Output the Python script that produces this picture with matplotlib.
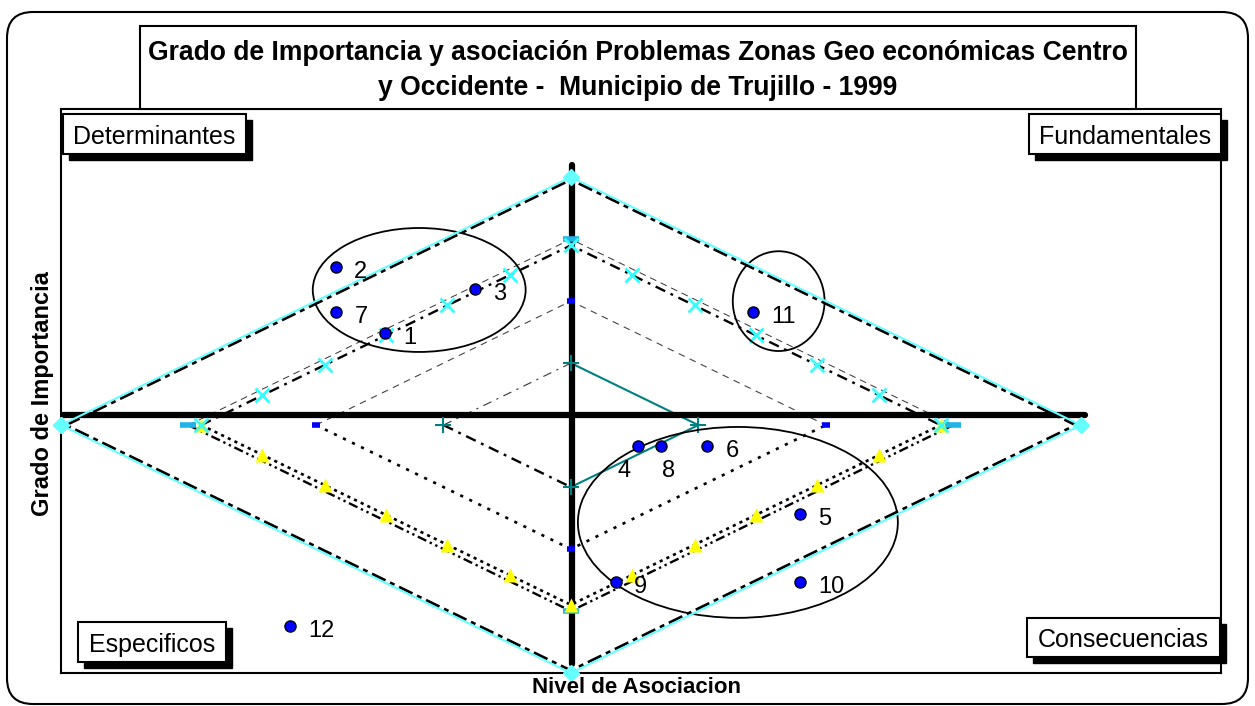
import numpy as np
import matplotlib.pyplot as plt
from matplotlib.patches import Ellipse, Rectangle, FancyBboxPatch

plt.rcParams['font.family'] = ['Liberation Sans', 'DejaVu Sans']

# ----------------------------------
# Data
# ----------------------------------

# problems: label, nivel de asociacion (x), grado de importancia (y)
prob_labels = ['1', '2', '3', '4', '5', '6', '7', '8', '9', '10', '11', '12']
prob_x = [-1.46, -1.84, -0.75, 0.53, 1.80, 1.07, -1.84, 0.71, 0.35, 1.80, 1.43, -2.20]
prob_y = [1.48, 2.55, 2.19, -0.34, -1.44, -0.34, 1.82, -0.34, -2.53, -2.53, 1.82, -3.24]

# reference rings (diamonds)
ring_radius = [1.0, 2.0, 3.0, 4.0]
inner3_radius = 2.9

# marks along the third ring
cross_x = [-2.9, -2.42, -1.93, -1.45, -0.97, -0.48, 0.0,
           0.48, 0.97, 1.45, 1.93, 2.42, 2.9]
cross_y = [0.0, 0.48, 0.97, 1.45, 1.93, 2.42, 2.9,
           2.42, 1.93, 1.45, 0.97, 0.48, 0.0]
tri_x = cross_x
tri_y = [0.0, -0.48, -0.97, -1.45, -1.93, -2.42, -2.9,
         -2.42, -1.93, -1.45, -0.97, -0.48, 0.0]

# groups (ellipses): centre x, centre y, width, height
group_cx = [-1.19, 1.63, 1.31]
group_cy = [2.18, 2.0, -1.57]
group_w = [1.67, 0.72, 2.51]
group_h = [2.0, 1.61, 3.08]

quadrant_names = ['Determinantes', 'Fundamentales', 'Especificos', 'Consecuencias']

title = ("Grado de Importancia y asociación Problemas Zonas Geo económicas Centro",
         "y Occidente -  Municipio de Trujillo - 1999")

# unit diamond shapes
dia_x = np.array([-1, 0, 1, 0, -1])
dia_y = np.array([0, 1, 0, -1, 0])
up_x, up_y = np.array([-1, 0, 1]), np.array([0, 1, 0])
lo_x, lo_y = np.array([-1, 0, 1]), np.array([0, -1, 0])
vx, vy = dia_x[:4], dia_y[:4]

# ----------------------------------
# Figure
# ----------------------------------

W, H = 1255, 706
fig = plt.figure(figsize=(W / 100, H / 100), dpi=100)


def px_rect(x0, y0, x1, y1, **kw):
    return Rectangle((x0 / 100, (H - y1) / 100), (x1 - x0) / 100, (y1 - y0) / 100,
                     transform=fig.dpi_scale_trans, **kw)


# outer rounded frame
frame = FancyBboxPatch((7 / 100, (H - 704) / 100), (1248 - 7) / 100, (704 - 12) / 100,
                       boxstyle="round,pad=0,rounding_size=0.26",
                       transform=fig.dpi_scale_trans, fill=False, ec='k', lw=1.5, zorder=0)
fig.add_artist(frame)

ax = fig.add_axes([61 / W, 1 - 673 / H, (1221 - 61) / W, (673 - 109) / H])
ax.set_xlim(-4, 5.1)
ax.set_ylim(-4, 5.1)
ax.set_xticks([])
ax.set_yticks([])
for s in ax.spines.values():
    s.set_linewidth(1.5)

# ring 4
R = ring_radius[3]
ax.plot(0.99 * R * dia_x, 0.99 * R * dia_y, color='k', lw=2.0,
        dashes=(5.4, 1.8, 1.8, 1.8), zorder=2)
ax.plot(R * dia_x, R * dia_y, color='#66FFFF', lw=1.5, marker='D', ms=8,
        mec='#66FFFF', clip_on=False, zorder=6)

# ring 3
R = ring_radius[2]
r = inner3_radius
ax.plot(r * up_x, r * up_y, color='k', lw=1.7, dashes=(4.5, 2.5, 1.2, 2.5), zorder=2)
ax.plot(R * up_x, R * up_y, color='#333333', lw=0.7, dashes=(7, 5), zorder=2)
ax.plot(r * lo_x, r * lo_y, color='k', lw=1.9, dashes=(1.2, 1.6), zorder=2)
ax.plot(R * lo_x, R * lo_y, color='k', lw=1.7, dashes=(4, 1.6, 1.0, 1.6, 1.0, 1.6), zorder=2)
ax.plot(R * vx, R * vy, ls='none', marker='_', ms=12, mew=4, color='#20B4E8', zorder=4)
ax.plot(cross_x, cross_y, ls='none', marker='x', ms=10, mew=2, color='#33FFFF', zorder=5)
ax.plot(tri_x, tri_y, ls='none', marker='^', ms=10.5, color='#FFFF00', mec='none', zorder=4)

# ring 2
R = ring_radius[1]
ax.plot(R * up_x, R * up_y, color='#444444', lw=0.8, dashes=(6, 5), zorder=2)
ax.plot(R * lo_x, R * lo_y, color='k', lw=1.9, dashes=(1.2, 2.6), zorder=2)
ax.plot(R * vx, R * vy, ls='none', marker='_', ms=6, mew=4, color='#0000FF', zorder=4)

# ring 1
R = ring_radius[0]
ax.plot([-R, 0], [0, R], color='#333333', lw=0.8, dashes=(8, 5, 2, 5), zorder=2)
ax.plot([-R, 0], [0, -R], color='k', lw=1.7, dashes=(4.5, 2.5, 1.2, 2.5), zorder=2)
ax.plot([0, R, 0], [R, 0, -R], color='#008080', lw=1.5, zorder=2)
ax.plot(R * vx, R * vy, ls='none', marker='+', ms=11, mew=1.5, color='#008080', zorder=4)

# thick cross lines
ax.plot([-4, 4.03], [0.16, 0.16], color='k', lw=4.5, solid_capstyle='round', zorder=3)
ax.plot([0.01, 0.01], [-3.85, 4.2], color='k', lw=4.5, solid_capstyle='round', zorder=3)

# groups
for cx, cy, w, h in zip(group_cx, group_cy, group_w, group_h):
    ax.add_patch(Ellipse((cx, cy), w, h, fill=False, ec='k', lw=1.3, zorder=5))

# problems
ax.plot(prob_x, prob_y, ls='none', marker='o', ms=8, mfc='#0000FF', mec='k',
        mew=1, zorder=7)
for lab, x, y in zip(prob_labels, prob_x, prob_y):
    off = (18, -11)
    if lab == '4':
        off = (-21, -31)
    elif lab == '8':
        off = (1, -31)
    ax.annotate(lab, (x, y), xytext=off, textcoords='offset pixels',
                fontsize=17, ha='left', va='baseline', zorder=8)

# ----------------------------------
# Title and labels
# ----------------------------------

fig.add_artist(px_rect(140, 26, 1136, 109, fc='white', ec='k', lw=1.5, zorder=1))
fig.text(638 / W, 1 - 60 / H, title[0], fontsize=19.1, fontweight='bold',
         ha='center', va='baseline')
fig.text(638 / W, 1 - 95 / H, title[1], fontsize=19.1, fontweight='bold',
         ha='center', va='baseline')

fig.text(637 / W, 1 - 693 / H, 'Nivel de Asociacion', fontsize=16, fontweight='bold',
         ha='center', va='baseline')
fig.text(43 / W, 1 - 394 / H, 'Grado de Importancia', fontsize=17, fontweight='bold',
         rotation=90, ha='center', va='center')

boxes = [(63, 114, 246, 154), (1029, 114, 1221, 154),
         (78, 622, 226, 662), (1027, 618, 1220, 657)]
for name, (x0, y0, x1, y1) in zip(quadrant_names, boxes):
    fig.add_artist(px_rect(x0 + 6, y0 + 6, x1 + 6, y1 + 6, fc='k', ec='k', lw=1, zorder=2))
    fig.add_artist(px_rect(x0, y0, x1, y1, fc='white', ec='k', lw=1.5, zorder=2.1))
    fig.text((x0 + x1) / 2 / W, 1 - (y1 - 10) / H, name, fontsize=18,
             ha='center', va='baseline', zorder=3)

fig.savefig('out.png', dpi=100)
